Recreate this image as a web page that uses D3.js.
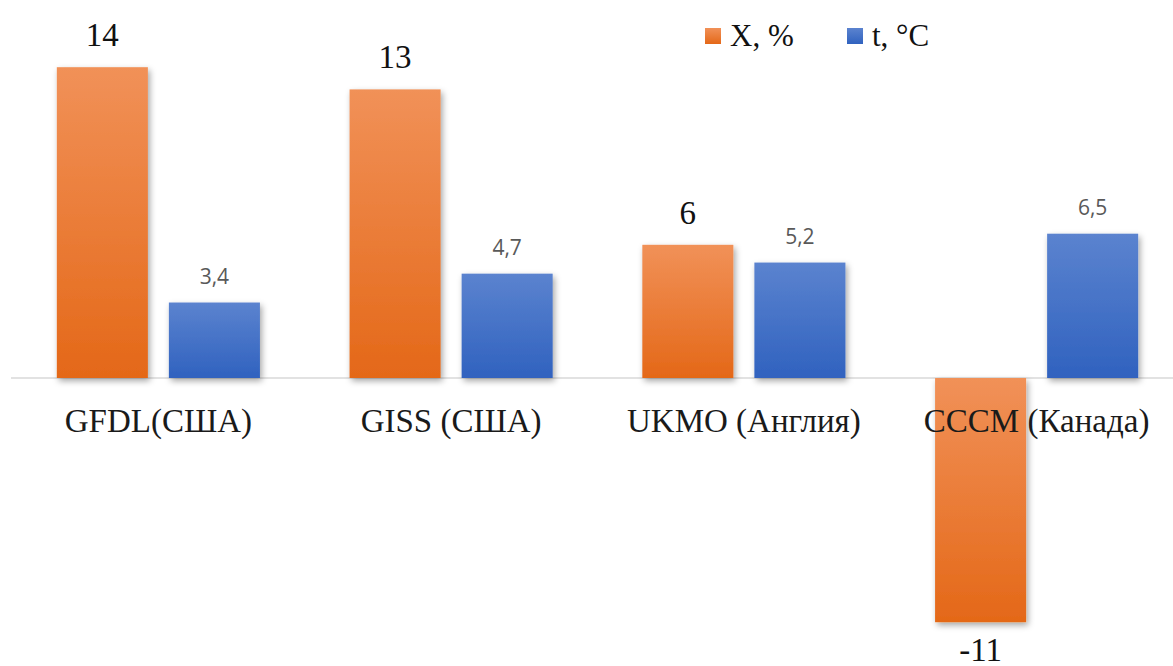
<!DOCTYPE html>
<html>
<head>
    <meta charset="utf-8">
    <title></title>
    <style>
        body { margin: 0; background: #fff; }
        .cat { font-size: 33px; fill: #1a1a1a; }
        .lblX { font-size: 33px; fill: #111; }
        .lblT { font-size: 21px; fill: #595959; }
        .leg { font-size: 31px; fill: #111; }
    </style>
</head>
<body>
<svg id="chart" width="1173" height="666"></svg>
<script src="https://cdn.jsdelivr.net/npm/d3@7"></script>
<script>
    var categories = ["GFDL(США)", "GISS (США)", "UKMO (Англия)", "CCCM (Канада)"];
    var seriesX = [14, 13, 6, -11];
    var seriesT = [3.4, 4.7, 5.2, 6.5];
    var seriesNames = ["X, %", "t, °C"];

    var serif = "'Liberation Serif', 'Times New Roman', serif";
    var sans = "'Open Sans', 'DejaVu Sans', sans-serif";

    var rows = categories.map(function (c, i) {
        return { cat: c, vals: [{ k: 0, v: seriesX[i] }, { k: 1, v: seriesT[i] }] };
    });

    var svg = d3.select("#chart");
    var defs = svg.append("defs");

    var grads = [["gO", "#f19158", "#e46818"], ["gB", "#5b83cf", "#3062bf"]];
    grads.forEach(function (g) {
        var lg = defs.append("linearGradient").attr("id", g[0])
            .attr("x1", 0).attr("y1", 0).attr("x2", 0).attr("y2", 1);
        lg.append("stop").attr("offset", "0%").attr("stop-color", g[1]);
        lg.append("stop").attr("offset", "100%").attr("stop-color", g[2]);
    });
    var f = defs.append("filter").attr("id", "sh")
        .attr("x", "-20%").attr("y", "-20%").attr("width", "150%").attr("height", "150%");
    f.append("feDropShadow").attr("dx", 2).attr("dy", 3).attr("stdDeviation", 3)
        .attr("flood-color", "#000").attr("flood-opacity", 0.35);

    var x0 = d3.scaleBand().domain(categories).range([12, 1183]);
    var x1 = d3.scaleBand().domain([0, 1]).range([0, x0.bandwidth()])
        .paddingInner(0.1875).paddingOuter(0.4);
    var y = d3.scaleLinear().domain([-12, 15]).range([378 + 12 * 22.2, 378 - 15 * 22.2]);

    // zero line
    svg.append("line")
        .attr("x1", 11).attr("x2", 1173)
        .attr("y1", y(0)).attr("y2", y(0))
        .attr("stroke", "#d9d9d9").attr("stroke-width", 1.5);

    var g = svg.selectAll(".grp").data(rows).enter().append("g")
        .attr("transform", function (d) { return "translate(" + x0(d.cat) + ",0)"; });

    g.selectAll("rect").data(function (d) { return d.vals; }).enter().append("rect")
        .attr("x", function (d) { return x1(d.k); })
        .attr("width", x1.bandwidth())
        .attr("y", function (d) { return y(Math.max(0, d.v)); })
        .attr("height", function (d) { return Math.abs(y(d.v) - y(0)); })
        .attr("fill", function (d) { return d.k === 0 ? "url(#gO)" : "url(#gB)"; })
        .attr("filter", "url(#sh)");

    g.selectAll("text.v").data(function (d) { return d.vals; }).enter().append("text")
        .attr("class", function (d) { return d.k === 0 ? "v lblX" : "v lblT"; })
        .attr("font-family", function (d) { return d.k === 0 ? serif : sans; })
        .attr("text-anchor", "middle")
        .attr("x", function (d) { return x1(d.k) + x1.bandwidth() / 2; })
        .attr("y", function (d) {
            if (d.v < 0) return y(d.v) + 39;
            return y(d.v) - (d.k === 0 ? 21 : 19);
        })
        .text(function (d) { return String(d.v).replace(".", ","); });

    // category labels (on top of bars)
    svg.selectAll(".cat").data(categories).enter().append("text")
        .attr("class", "cat")
        .attr("font-family", serif)
        .attr("x", function (d) { return x0(d) + x0.bandwidth() / 2; })
        .attr("y", 432)
        .attr("text-anchor", "middle")
        .text(function (d) { return d; });

    // legend
    var legX = [705, 847];
    var leg = svg.selectAll(".legi").data(seriesNames).enter().append("g")
        .attr("transform", function (d, i) { return "translate(" + legX[i] + ",28)"; });
    leg.append("rect").attr("width", 16).attr("height", 16)
        .attr("fill", function (d, i) { return i === 0 ? "url(#gO)" : "url(#gB)"; });
    leg.append("text").attr("class", "leg").attr("x", 25).attr("y", 18)
        .attr("font-family", serif)
        .text(function (d) { return d; });
</script>
</body>
</html>
